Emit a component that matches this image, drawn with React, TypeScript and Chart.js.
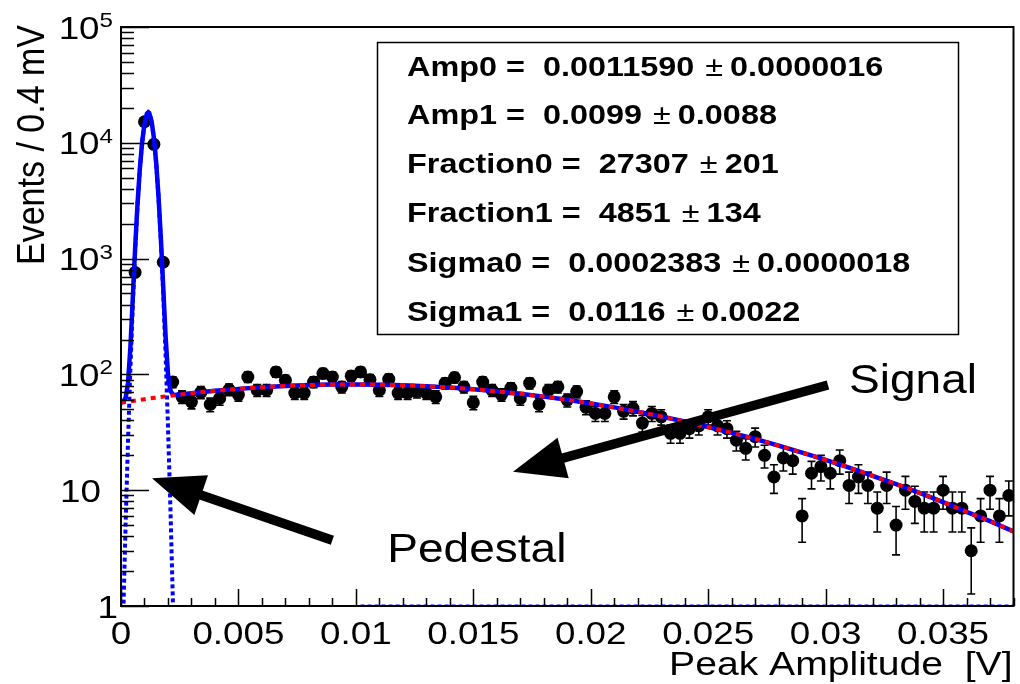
import React, { useEffect, useRef } from "react";
import { Chart, registerables } from "chart.js";

Chart.register(...registerables);

// ---------- data ----------
const BIN_WIDTH = 0.0004; // 0.4 mV bins
// events per bin, bin i centred at (i + 0.5) * BIN_WIDTH
const counts: (number | null)[] = [
  null, 760, 15200, 9700, 930, 86, 64, 58, 70, 55,
  62, 74, 67, 95, 73, 73, 105, 89, 69, 69,
  86, 102, 95, 78, 97, 105, 90, 73, 91, 69,
  69, 71, 69, 64, 84, 94, 78, 57, 86, 73,
  67, 76, 62, 84, 55, 73, 78, 60, 71, 52,
  46, 46, 64, 48, 51, 38, 46, 43, 31, 31,
  34, 36, 43, 36, 34, 27, 23, 29, 20, 13,
  19, 18, 6, 14, 16, 14, 18, 11, 13, 11,
  7, 11, 5, 10, 8, 7, 7, 10, 7, 7,
  3, 6, 10, 6, 9,
];

// pedestal region samples (x in V)
const peakX = [
  0, 0.0001, 0.0002, 0.0003, 0.0004, 0.0005, 0.0006, 0.0007, 0.0008, 0.0009,
  0.001, 0.0011, 0.00116, 0.0012, 0.0013, 0.0014, 0.0015, 0.0016, 0.0017, 0.0018,
  0.0019, 0.002, 0.0021, 0.0022, 0.0023,
];
const pedestalY = [
  0.13, 0.9, 5.4, 27, 112, 390, 1150, 2830, 5830, 10080,
  14600, 17730, 18300, 18040, 15390, 11010, 6600, 3310, 1400, 490,
  146, 36, 7.5, 1.3, 0.19,
];
const totalPeakY = [
  57, 58.3, 63, 85, 171, 450, 1210, 2890, 5890, 10140,
  14660, 17790, 18360, 18100, 15450, 11070, 6660, 3380, 1460, 556,
  211, 101, 73, 67, 66.4,
];

// signal component samples
const signalX = [
  0, 0.001, 0.002, 0.003, 0.004, 0.005, 0.006, 0.007, 0.008, 0.009,
  0.01, 0.011, 0.012, 0.013, 0.014, 0.015, 0.016, 0.017, 0.018, 0.019,
  0.02, 0.021, 0.022, 0.023, 0.024, 0.025, 0.026, 0.027, 0.028, 0.029,
  0.03, 0.031, 0.032, 0.033, 0.034, 0.035, 0.036, 0.037, 0.038,
];
const signalY = [
  57, 61.1, 65, 68.7, 72.1, 75, 77.5, 79.5, 80.9, 81.8,
  82, 81.6, 80.7, 79.1, 77, 74.5, 71.4, 68, 64.3, 60.3,
  56.1, 51.9, 47.6, 43.3, 39.2, 35.1, 31.3, 27.7, 24.3, 21.1,
  18.3, 15.7, 13.3, 11.3, 9.5, 7.9, 6.5, 5.4, 4.4,
];

// pedestal component clipped at the axis floor
const pedestalTailX = [0.0102, 0.038];
const pedestalTailY = [1, 1];

const xTickValues = [0, 0.005, 0.01, 0.015, 0.02, 0.025, 0.03, 0.035];
const xTickLabels = ["0", "0.005", "0.01", "0.015", "0.02", "0.025", "0.03", "0.035"];
const yDecades = [0, 1, 2, 3, 4, 5];

const statNames = ["Amp0", "Amp1", "Fraction0", "Fraction1", "Sigma0", "Sigma1"];
const statValues = ["0.0011590", "0.0099", "27307", "4851", "0.0002383", "0.0116"];
const statErrors = ["0.0000016", "0.0088", "201", "134", "0.0000018", "0.0022"];

const X_TITLE = "Peak Amplitude  [V]";
const Y_TITLE = "Events / 0.4 mV";

// ---------- drawing helpers ----------
const FONT = '"Liberation Sans", Arial, Helvetica, sans-serif';
const SX = 1.15; // horizontal text stretch of the reference

function drawText(
  ctx: CanvasRenderingContext2D,
  s: string,
  x: number,
  y: number,
  size: number,
  align: CanvasTextAlign,
  bold = false,
  sx = SX
) {
  ctx.save();
  ctx.font = `${bold ? "bold " : ""}${size}px ${FONT}`;
  ctx.textAlign = align;
  ctx.textBaseline = "alphabetic";
  ctx.fillStyle = "#000";
  ctx.translate(x, y);
  ctx.scale(sx, 1);
  ctx.fillText(s, 0, 0);
  ctx.restore();
}

function textWidth(ctx: CanvasRenderingContext2D, s: string, size: number, bold = false, sx = SX) {
  ctx.save();
  ctx.font = `${bold ? "bold " : ""}${size}px ${FONT}`;
  const w = ctx.measureText(s).width * sx;
  ctx.restore();
  return w;
}

function drawArrow(
  ctx: CanvasRenderingContext2D,
  x0: number,
  y0: number,
  x1: number,
  y1: number
) {
  const dx = x1 - x0;
  const dy = y1 - y0;
  const len = Math.hypot(dx, dy);
  const ux = dx / len;
  const uy = dy / len;
  const headLen = 52;
  const headHalf = 21;
  const bx = x1 - ux * headLen;
  const by = y1 - uy * headLen;
  ctx.save();
  ctx.strokeStyle = "#000";
  ctx.fillStyle = "#000";
  ctx.lineWidth = 9.5;
  ctx.lineCap = "butt";
  ctx.beginPath();
  ctx.moveTo(x0, y0);
  ctx.lineTo(bx + ux * 5, by + uy * 5);
  ctx.stroke();
  ctx.beginPath();
  ctx.moveTo(x1, y1);
  ctx.lineTo(bx - uy * headHalf, by + ux * headHalf);
  ctx.lineTo(bx + uy * headHalf, by - ux * headHalf);
  ctx.closePath();
  ctx.fill();
  ctx.restore();
}

const rootPlugin = {
  id: "rootStyle",
  beforeDatasetsDraw(chart: any) {
    // error bars (Poisson) under markers and curves
    const ctx: CanvasRenderingContext2D = chart.ctx;
    const xs = chart.scales.x;
    const ys = chart.scales.y;
    const area = chart.chartArea;
    ctx.save();
    ctx.beginPath();
    ctx.rect(area.left, area.top, area.right - area.left, area.bottom - area.top);
    ctx.clip();
    ctx.strokeStyle = "#000";
    ctx.lineWidth = 1.6;
    counts.forEach((c, i) => {
      if (c == null) return;
      const e = Math.sqrt(c);
      const x = xs.getPixelForValue((i + 0.5) * BIN_WIDTH);
      const yHi = ys.getPixelForValue(c + e);
      const yLo = ys.getPixelForValue(Math.max(c - e, 0.5));
      ctx.beginPath();
      ctx.moveTo(x, yHi);
      ctx.lineTo(x, yLo);
      ctx.moveTo(x - 4, yHi);
      ctx.lineTo(x + 4, yHi);
      if (c - e > 0.5) {
        ctx.moveTo(x - 4, yLo);
        ctx.lineTo(x + 4, yLo);
      }
      ctx.stroke();
    });
    ctx.restore();
  },
  afterDatasetsDraw(chart: any) {
    const ctx: CanvasRenderingContext2D = chart.ctx;
    const xs = chart.scales.x;
    const ys = chart.scales.y;
    const { left, right, top, bottom } = chart.chartArea;

    // frame
    ctx.save();
    ctx.strokeStyle = "#000";
    ctx.lineWidth = 2;
    ctx.strokeRect(left, top, right - left, bottom - top);

    // y ticks (log, inward)
    ctx.lineWidth = 1.5;
    ctx.beginPath();
    for (let d = 0; d < 5; d++) {
      for (let m = 1; m <= 9; m++) {
        const y = Math.round(ys.getPixelForValue(m * Math.pow(10, d))) + 0.5;
        const len = m === 1 ? 28 : 13;
        ctx.moveTo(left, y);
        ctx.lineTo(left + len, y);
      }
    }
    ctx.moveTo(left, top + 0.5);
    ctx.lineTo(left + 28, top + 0.5);
    // x ticks
    for (let k = 0; k <= 38; k++) {
      const x = Math.round(xs.getPixelForValue(k * 0.001)) + 0.5;
      const len = k % 5 === 0 ? 17 : 8;
      ctx.moveTo(x, bottom);
      ctx.lineTo(x, bottom - len);
    }
    ctx.stroke();
    ctx.restore();

    // arrows (anchored in data coordinates)
    drawArrow(
      ctx,
      xs.getPixelForValue(0.0301),
      ys.getPixelForValue(81),
      xs.getPixelForValue(0.01669),
      ys.getPixelForValue(14.4)
    );
    drawArrow(
      ctx,
      xs.getPixelForValue(0.009),
      ys.getPixelForValue(3.7),
      xs.getPixelForValue(0.00132),
      ys.getPixelForValue(12.7)
    );
  },
  afterDraw(chart: any) {
    const ctx: CanvasRenderingContext2D = chart.ctx;
    const xs = chart.scales.x;
    const ys = chart.scales.y;
    const { right, bottom } = chart.chartArea;

    // x tick labels
    xTickValues.forEach((v, i) => {
      drawText(ctx, xTickLabels[i], xs.getPixelForValue(v), bottom + 38, 32, "center");
    });
    // y tick labels
    yDecades.forEach((d) => {
      const y = ys.getPixelForValue(Math.pow(10, d));
      if (d === 0) {
        drawText(ctx, "1", 118, y + 11.5, 32, "right");
      } else if (d === 1) {
        drawText(ctx, "10", 101, y + 11.5, 32, "right");
      } else {
        const supW = textWidth(ctx, String(d), 21);
        drawText(ctx, String(d), 113, y, 21, "right");
        drawText(ctx, "10", 113 - supW, y + 11.5, 32, "right");
      }
    });

    // axis titles
    drawText(ctx, X_TITLE, right - 1, bottom + 69, 34, "right");
    ctx.save();
    ctx.translate(44, 145);
    ctx.rotate(-Math.PI / 2);
    ctx.scale(1, SX);
    ctx.font = `34px ${FONT}`;
    ctx.textAlign = "center";
    ctx.textBaseline = "alphabetic";
    ctx.fillStyle = "#000";
    ctx.fillText(Y_TITLE, 0, 0);
    ctx.restore();

    // fit-parameter box
    const bx = 377, by = 42, bw = 581, bh = 292;
    ctx.save();
    ctx.fillStyle = "#fff";
    ctx.fillRect(bx, by, bw, bh);
    ctx.strokeStyle = "#000";
    ctx.lineWidth = 1.5;
    ctx.strokeRect(bx + 0.5, by + 0.5, bw, bh);
    ctx.restore();
    const lineY = [66, 114, 163, 212, 262, 311];
    statNames.forEach((name, i) => {
      const base = lineY[i] + 10;
      const sx = 1.2;
      let x = 407;
      const head = `${name} =  ${statValues[i]} `;
      drawText(ctx, head, x, base, 27, "left", true, sx);
      x += textWidth(ctx, head, 27, true, sx) + 2;
      drawText(ctx, "\u00b1", x, base, 27, "left", false, sx);
      x += textWidth(ctx, "\u00b1", 27, false, sx) + 7;
      drawText(ctx, statErrors[i], x, base, 27, "left", true, sx);
    });

    // annotations
    drawText(ctx, "Signal", xs.getPixelForValue(0.031), ys.getPixelForValue(93) + 15, 40, "left");
    drawText(ctx, "Pedestal", xs.getPixelForValue(0.01134), ys.getPixelForValue(3.23) + 15, 40, "left");
  },
};

export default function App() {
  const ref = useRef<HTMLCanvasElement>(null);
  useEffect(() => {
    const canvas = ref.current!;
    const points = counts
      .map((c, i) => (c == null ? null : { x: (i + 0.5) * BIN_WIDTH, y: c }))
      .filter((p) => p !== null);
    const totalX = peakX.concat(signalX.slice(3));
    const totalY = totalPeakY.concat(signalY.slice(3));
    const chart = new Chart(canvas, {
      type: "scatter",
      data: {
        datasets: [
          {
            label: "signal",
            data: signalX.map((x, i) => ({ x, y: signalY[i] })),
            showLine: true,
            borderColor: "#ff0000",
            borderWidth: 4,
            borderDash: [5, 5],
            pointRadius: 0,
            cubicInterpolationMode: "monotone",
            order: 0,
          },
          {
            label: "pedestal",
            data: peakX.map((x, i) => ({ x, y: pedestalY[i] })),
            showLine: true,
            borderColor: "#0000ff",
            borderWidth: 4,
            borderDash: [4, 3],
            pointRadius: 0,
            order: 1,
          },
          {
            label: "pedestal tail",
            data: pedestalTailX.map((x, i) => ({ x, y: pedestalTailY[i] })),
            showLine: true,
            borderColor: "#0000ff",
            borderWidth: 3,
            borderDash: [4, 3],
            pointRadius: 0,
            order: 1,
          },
          {
            label: "total",
            data: totalX.map((x, i) => ({ x, y: totalY[i] })),
            showLine: true,
            borderColor: "#0000ff",
            borderWidth: 4.5,
            pointRadius: 0,
            order: 2,
          },
          {
            label: "data",
            data: points as any,
            showLine: false,
            pointRadius: 6.5,
            pointBackgroundColor: "#000",
            pointBorderColor: "#000",
            pointBorderWidth: 0,
            order: 3,
          },
        ],
      },
      options: {
        animation: false,
        responsive: false,
        devicePixelRatio: 1,
        events: [],
        layout: { padding: { left: 121, top: 27, right: 4, bottom: 78 } },
        plugins: { legend: { display: false }, tooltip: { enabled: false } },
        scales: {
          x: { type: "linear", min: 0, max: 0.038, display: false },
          y: { type: "logarithmic", min: 1, max: 100000, display: false },
        },
      } as any,
      plugins: [rootPlugin],
    });
    return () => chart.destroy();
  }, []);
  return (
    <div
      style={{
        position: "absolute",
        left: 0,
        top: 0,
        width: 1020,
        height: 684,
        background: "#fff",
      }}
    >
      <canvas ref={ref} width={1020} height={684} style={{ display: "block" }} />
    </div>
  );
}
